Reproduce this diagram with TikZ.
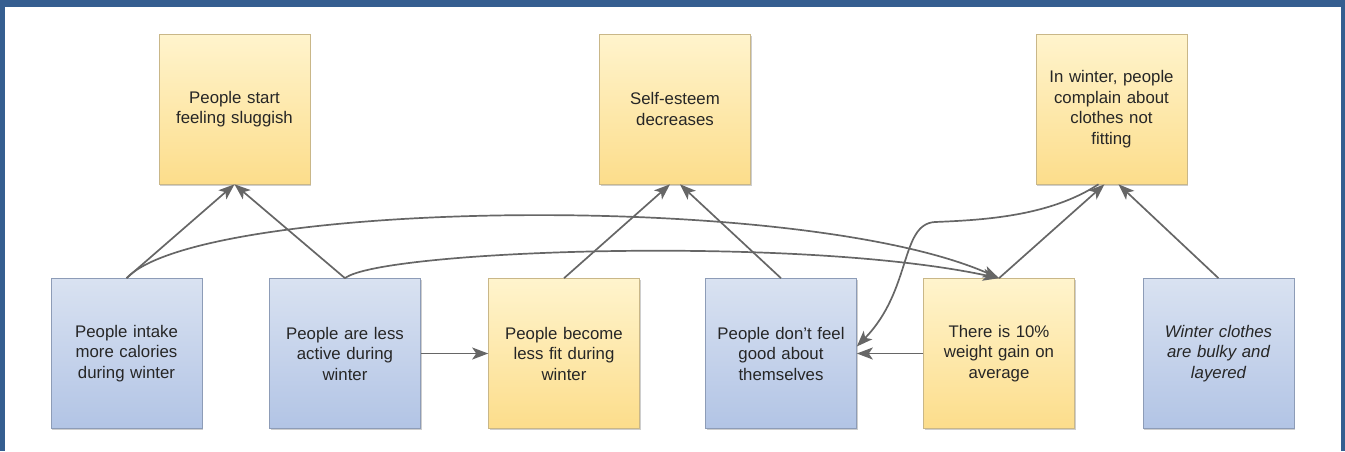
\documentclass[tikz,border=0pt]{standalone}
\usepackage{fontspec}
\setmainfont{Liberation Sans}
\usetikzlibrary{arrows.meta,shadows,calc}
\definecolor{frameblue}{HTML}{355E90}
\definecolor{ylwtop}{HTML}{FFF4CD}
\definecolor{ylwbot}{HTML}{FCDD8B}
\definecolor{ylwedge}{HTML}{C9B788}
\definecolor{blutop}{HTML}{D9E2F1}
\definecolor{blubot}{HTML}{B2C4E5}
\definecolor{bluedge}{HTML}{8D9CB7}
\definecolor{linkgray}{HTML}{666666}
\definecolor{txt}{HTML}{262626}
\begin{document}
\begin{tikzpicture}[x=1pt,y=-1pt,
  card/.style={minimum width=151pt, minimum height=150pt, inner sep=0pt,
    align=center, text width=145pt, text=txt,
    font=\fontsize{16.8}{20.5}\selectfont, line width=0.6pt,
    drop shadow={shadow xshift=1pt, shadow yshift=-1.8pt, opacity=0.35, fill=black!55}},
  effect/.style={card, top color=ylwtop, bottom color=ylwbot, draw=ylwedge},
  cause/.style={card, top color=blutop, bottom color=blubot, draw=bluedge},
  link/.style={draw=linkgray, line width=1.7pt, -{Stealth[length=16pt,width=12pt,inset=4pt]}}]
\useasboundingbox (0,0) rectangle (1345,451);
% frame
\fill[frameblue] (0,0) rectangle (1345,7);
\fill[frameblue] (0,0) rectangle (5,451);
\fill[frameblue] (1341,0) rectangle (1345,451);

% upper row: consequences
\node[effect] (sluggish) at (234.5,109) {People start\\feeling sluggish};
\node[effect] (esteem)   at (675,109)   {Self-esteem\\decreases};
\node[effect] (fitting)  at (1111.5,109) {In winter, people\\complain about\\clothes not\\fitting};

% lower row
\node[cause]  (calories) at (126.5,353.5) {People intake\\more calories\\during winter};
\node[cause]  (active)   at (345,353.5)   {People are less\\active during\\winter};
\node[effect] (lessfit)  at (564,353.5)   {People become\\less fit during\\winter};
\node[cause]  (feel)     at (781,353.5)   {People don't feel\\good about\\themselves};
\node[effect] (weight)   at (999,353.5)   {There is 10\%\\weight gain on\\average};
\node[cause]  (clothes)  at (1218.5,353.5) {\itshape Winter clothes\\are bulky and\\layered};

% links
\draw[link] (calories.north) -- (sluggish.south);
\draw[link] (active.north) -- (sluggish.south);
\draw[link] (calories.north) .. controls (200,200) and (800,190) .. (weight.north);
\draw[link] (active.north) .. controls (380,250) and (800,235) .. (weight.north);
\draw[link] (active.east) -- (lessfit.west);
\draw[link] (lessfit.north) -- ($(esteem.south)+(-5,0)$);
\draw[link] (feel.north) -- ($(esteem.south)+(5,0)$);
\draw[link] (weight.west) -- (feel.east);
\draw[link] (weight.north) -- ($(fitting.south)+(-7,0)$);
\draw[link] (clothes.north) -- ($(fitting.south)+(7,0)$);
\draw[link] ($(fitting.south)+(-13,0)$) .. controls (1050,216) and (985,220) .. (935,222)
  .. controls (900,224) and (912,290) .. ($(feel.east)+(0,-7)$);
\end{tikzpicture}
\end{document}
